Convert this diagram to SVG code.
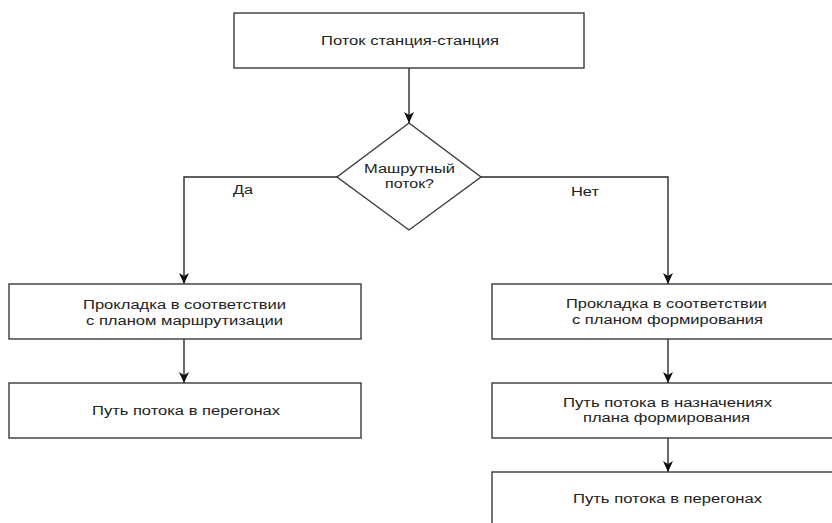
<svg xmlns="http://www.w3.org/2000/svg" width="832" height="523" viewBox="0 0 832 523">
<style>
.box{fill:#fff;stroke:#3a3a3a;stroke-width:1.4}
.ln{fill:none;stroke:#2a2a2a;stroke-width:1.4}
text{font-family:"Liberation Sans",Arial,sans-serif;font-size:12px;fill:#222;text-anchor:middle}
</style>
<defs>
<marker id="arr" markerWidth="12" markerHeight="12" refX="11" refY="5.5" orient="auto" markerUnits="userSpaceOnUse">
<path d="M0,0.5 L11,5.5 L0,10.5 L3,5.5 Z" fill="#111"/>
</marker>
</defs>
<rect width="832" height="523" fill="#fff"/>
<g id="connectors">
<path class="ln" d="M409,68 V123" marker-end="url(#arr)"/>
<path class="ln" d="M337,177 H184 V284" marker-end="url(#arr)"/>
<path class="ln" d="M481,177 H668 V284" marker-end="url(#arr)"/>
<path class="ln" d="M184,339 V383" marker-end="url(#arr)"/>
<path class="ln" d="M668,339 V383" marker-end="url(#arr)"/>
<path class="ln" d="M668,438 V472" marker-end="url(#arr)"/>
<text x="243" y="194" textLength="20" lengthAdjust="spacingAndGlyphs">Да</text>
<text x="585" y="196" textLength="28" lengthAdjust="spacingAndGlyphs">Нет</text>
</g>
<g id="start">
<rect class="box" x="234" y="13" width="350" height="55"/>
<text x="410" y="45" textLength="178" lengthAdjust="spacingAndGlyphs">Поток станция-станция</text>
</g>
<g id="decision">
<path class="box" d="M409,123 L481,177 L409,230 L337,177 Z"/>
<text x="409.5" y="173" textLength="91" lengthAdjust="spacingAndGlyphs">Машрутный</text>
<text x="409.5" y="188" textLength="49" lengthAdjust="spacingAndGlyphs">поток?</text>
</g>
<g id="left1">
<rect class="box" x="9" y="284" width="352" height="55"/>
<text x="184.5" y="309" textLength="203" lengthAdjust="spacingAndGlyphs">Прокладка в соответствии</text>
<text x="184.5" y="325" textLength="197" lengthAdjust="spacingAndGlyphs">с планом маршрутизации</text>
</g>
<g id="left2">
<rect class="box" x="9" y="383" width="352" height="55"/>
<text x="186" y="415" textLength="188" lengthAdjust="spacingAndGlyphs">Путь потока в перегонах</text>
</g>
<g id="right1">
<rect class="box" x="492" y="284" width="352" height="55"/>
<text x="666.5" y="308" textLength="201" lengthAdjust="spacingAndGlyphs">Прокладка в соответствии</text>
<text x="667.5" y="324" textLength="191" lengthAdjust="spacingAndGlyphs">с планом формирования</text>
</g>
<g id="right2">
<rect class="box" x="492" y="383" width="352" height="55"/>
<text x="667.5" y="407" textLength="209" lengthAdjust="spacingAndGlyphs">Путь потока в назначениях</text>
<text x="666.5" y="422" textLength="167" lengthAdjust="spacingAndGlyphs">плана формирования</text>
</g>
<g id="right3">
<rect class="box" x="492" y="472" width="352" height="60"/>
<text x="667.5" y="503" textLength="189" lengthAdjust="spacingAndGlyphs">Путь потока в перегонах</text>
</g>
</svg>
